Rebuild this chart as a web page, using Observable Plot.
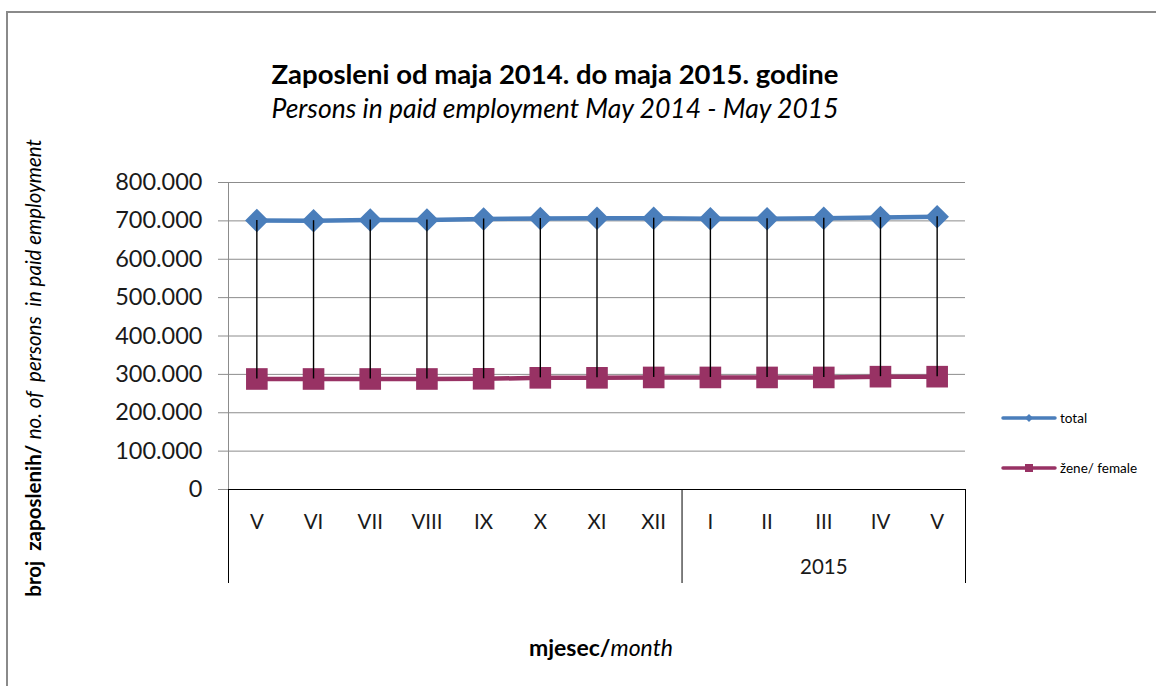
<!DOCTYPE html>
<html>
<head>
<meta charset="utf-8">
<script src="https://cdn.jsdelivr.net/npm/d3@7"></script>
<script src="https://cdn.jsdelivr.net/npm/@observablehq/plot@0.6"></script>
<style>
  html, body { margin: 0; padding: 0; background: #fff; }
  #wrap { position: relative; width: 1156px; height: 686px; overflow: hidden; font-family: Lato, "Open Sans", sans-serif; color: #000; }
  #border { position: absolute; left: 6px; top: 11px; width: 1200px; height: 700px; border-top: 2px solid #8a8a8a; border-left: 2px solid #8a8a8a; }
  #chart { position: absolute; left: 0; top: 0; }
  .title { position: absolute; left: 0; width: 1110px; text-align: center; white-space: nowrap; line-height: 1; }
  #t1 { top: 60px; font-size: 27.5px; font-weight: bold; }
  #t2 { top: 95px; font-size: 26.5px; font-style: italic; }
  #ytitle { position: absolute; left: 33px; top: 368px; transform: translate(-50%, -50%) rotate(-90deg); white-space: nowrap; font-size: 20.5px; line-height: 1; }
  #xtitle { position: absolute; left: 0; width: 1202px; top: 636px; text-align: center; font-size: 23px; white-space: nowrap; line-height: 1; }
  .legend { position: absolute; left: 1000px; font-size: 13.5px; display: flex; align-items: center; white-space: nowrap; }
</style>
</head>
<body>
<div id="wrap">
  <div id="border"></div>
  <div id="chart"></div>
  <div class="title" id="t1">Zaposleni od maja 2014. do maja 2015. godine</div>
  <div class="title" id="t2">Persons in paid employment May 2014 - May 2015</div>
  <div id="ytitle"><b>broj&nbsp; zaposlenih/</b> <i>no. of&nbsp; persons&nbsp; in paid employment</i></div>
  <div id="xtitle"><b>mjesec/</b><i>month</i></div>
  <div class="legend" id="leg1" style="top:409px"></div>
  <div class="legend" id="leg2" style="top:459px"></div>
</div>
<script>
// ---- data ----
const months = ["V", "VI", "VII", "VIII", "IX", "X", "XI", "XII", "I", "II", "III", "IV", "V"];
const years = ["2014", "2014", "2014", "2014", "2014", "2014", "2014", "2014", "2015", "2015", "2015", "2015", "2015"];
const yearLabels = {"2014": "", "2015": "2015"};
const total = [701000, 700500, 702000, 702000, 705000, 706000, 707000, 707000, 705500, 705500, 707000, 708500, 711000];
const female = [288000, 288000, 288000, 288000, 288500, 291000, 291000, 292000, 292000, 292000, 292000, 294000, 294000];
const yTicks = [0, 100000, 200000, 300000, 400000, 500000, 600000, 700000, 800000];
const seriesNames = ["total", "žene/ female"];

const blue = "#4a7ebb";
const plum = "#983264";

const rows = months.map((m, i) => ({i, month: m, year: years[i], total: total[i], female: female[i]}));

// year groups -> boundaries and centers
const groups = d3.groups(rows, d => d.year);
const boundaries = [-0.5, ...groups.map(([, g]) => g[g.length - 1].i + 0.5)];
const groupCenters = groups.map(([y, g]) => ({year: y, label: yearLabels[y], x: d3.mean(g, d => d.i)}));

const loc = d3.formatLocale({decimal: ",", thousands: ".", grouping: [3]});
const fmt = loc.format(",");

const chart = Plot.plot({
  width: 1156,
  height: 686,
  marginLeft: 228,
  marginRight: 191,
  marginTop: 182,
  marginBottom: 197,
  style: {fontFamily: "Lato, 'Open Sans', sans-serif", background: "transparent", overflow: "visible"},
  x: {type: "linear", domain: [-0.5, months.length - 0.5]},
  y: {domain: [0, 800000]},
  marks: [
    Plot.gridY(yTicks, {stroke: "#8c8c8c", strokeOpacity: 1, strokeWidth: 1}),
    Plot.axisY(yTicks, {tickFormat: fmt, tickSize: 10, tickPadding: 16, fontSize: 23.5, stroke: "#8c8c8c", color: "#1a1a1a", label: null}),
    Plot.frame({anchor: "left", stroke: "#8c8c8c"}),
    Plot.axisX(d3.range(months.length), {tickFormat: i => months[i], tickSize: 0, tickPadding: 25, fontSize: 20.5, color: "#1a1a1a", label: null}),
    Plot.ruleY([0], {stroke: "#000", strokeWidth: 1}),
    Plot.ruleX(boundaries, {x: d => d, stroke: "#000", strokeWidth: 1, insetTop: 307, insetBottom: -94}),
    Plot.text(groupCenters, {x: "x", text: "label", frameAnchor: "bottom", dy: 84, fontSize: 20.5, fill: "#1a1a1a"}),
    Plot.line(rows, {x: "i", y: "total", stroke: blue, strokeWidth: 4.5}),
    Plot.dot(rows, {x: "i", y: "total", symbol: "diamond2", r: 10.6, fill: blue, stroke: "none"}),
    Plot.line(rows, {x: "i", y: "female", stroke: plum, strokeWidth: 4.5}),
    Plot.dot(rows, {x: "i", y: "female", symbol: "square", r: 12.2, fill: plum, stroke: "none"}),
    Plot.ruleX(rows, {x: "i", y1: "female", y2: "total", stroke: "#000", strokeWidth: 1.4})
  ]
});
document.getElementById("chart").appendChild(chart);

// legend
function legendSwatch(color, shape) {
  const ns = "http://www.w3.org/2000/svg";
  const svg = document.createElementNS(ns, "svg");
  svg.setAttribute("width", 60); svg.setAttribute("height", 18);
  const line = document.createElementNS(ns, "line");
  line.setAttribute("x1", 3); line.setAttribute("x2", 55); line.setAttribute("y1", 9); line.setAttribute("y2", 9);
  line.setAttribute("stroke", color); line.setAttribute("stroke-width", 3.5); line.setAttribute("stroke-linecap", "round");
  svg.appendChild(line);
  const p = document.createElementNS(ns, "path");
  p.setAttribute("d", shape === "diamond" ? "M29,5L33,9L29,13L25,9Z" : "M25,5H33V13H25Z");
  p.setAttribute("fill", color);
  svg.appendChild(p);
  return svg;
}
const l1 = document.getElementById("leg1");
l1.appendChild(legendSwatch(blue, "diamond"));
l1.appendChild(document.createTextNode(seriesNames[0]));
const l2 = document.getElementById("leg2");
l2.appendChild(legendSwatch(plum, "square"));
l2.appendChild(document.createTextNode(seriesNames[1]));
</script>
</body>
</html>
